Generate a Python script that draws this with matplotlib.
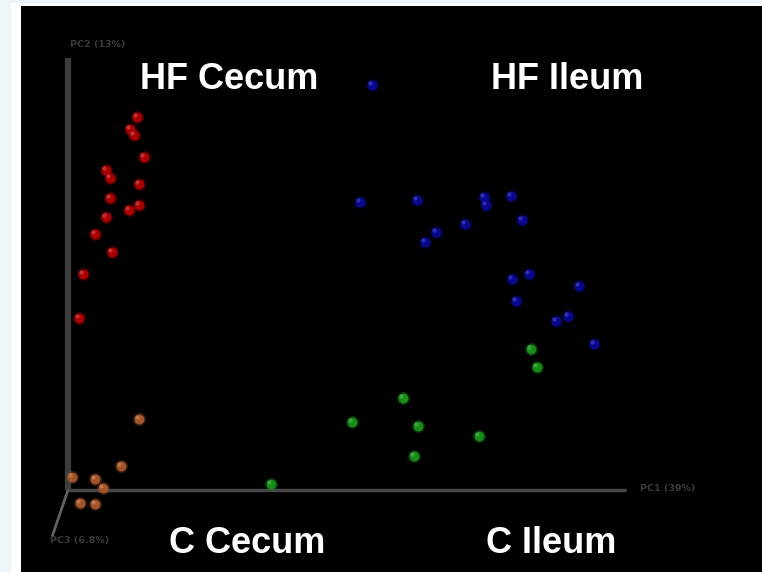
import numpy as np
import matplotlib
matplotlib.use("Agg")
import matplotlib.pyplot as plt
from matplotlib.patches import Rectangle

# PCoA scores (PC1, PC2)
hf_cecum_pc1 = [0.69, 0.62, 0.66, 0.76, 0.38, 0.42, 0.71, 0.42, 0.71, 0.61, 0.38, 0.27, 0.44, 0.15, 0.11]
hf_cecum_pc2 = [3.73, 3.61, 3.55, 3.33, 3.20, 3.12, 3.06, 2.92, 2.85, 2.80, 2.73, 2.56, 2.38, 2.16, 1.72]

hf_ileum_pc1 = [3.04, 2.92, 3.49, 4.16, 4.18, 4.43, 4.54, 3.97, 3.68, 3.57, 4.44, 4.61, 5.11, 4.48, 5.00, 4.88, 5.26]
hf_ileum_pc2 = [4.05, 2.88, 2.90, 2.93, 2.85, 2.94, 2.70, 2.66, 2.58, 2.48, 2.11, 2.16, 2.04, 1.89, 1.74, 1.69, 1.46]

c_ileum_pc1 = [4.63, 4.69, 3.35, 2.84, 3.50, 4.11, 3.46, 2.03]
c_ileum_pc2 = [1.41, 1.23, 0.92, 0.68, 0.64, 0.54, 0.34, 0.06]

c_cecum_pc1 = [0.71, 0.53, 0.04, 0.27, 0.35, 0.12, 0.27]
c_cecum_pc2 = [0.71, 0.24, 0.13, 0.11, 0.02, -0.13, -0.14]

group_names = ["HF Cecum", "HF Ileum", "C Cecum", "C Ileum"]
axis_labels = ["PC1 (39%)", "PC2 (13%)", "PC3 (6.8%)"]


def main():
    fig = plt.figure(figsize=(7.62, 5.72), dpi=100)
    fig.patch.set_facecolor("#edf5f7")
    fig.patches.append(Rectangle((11 / 762, 0), 751 / 762, 569 / 572,
                                 transform=fig.transFigure, facecolor="white",
                                 edgecolor="none", zorder=-1))

    ax = fig.add_axes([21 / 762, 0, 741 / 762, 566 / 572])
    ax.set_facecolor("black")
    ax.set_xlim(-0.47, 6.94)
    ax.set_ylim(-0.82, 4.84)
    for sp in ax.spines.values():
        sp.set_visible(False)
    ax.set_xticks([])
    ax.set_yticks([])

    # pseudo 3D axes
    ax.plot([0, 0], [0, 4.32], color="#3c3c3c", lw=4.5, solid_capstyle="butt", zorder=1)
    ax.plot([0, 5.58], [0, 0], color="#454545", lw=2.5, solid_capstyle="butt", zorder=1)
    ax.plot([0, -0.16], [0, -0.47], color="#606060", lw=2.0, solid_capstyle="butt", zorder=1)

    ax.text(0.02, 4.45, axis_labels[1], color="#3a3a3a", fontsize=6.8,
            ha="left", va="center", fontweight="bold")
    ax.text(5.72, 0.02, axis_labels[0], color="#3a3a3a", fontsize=6.8,
            ha="left", va="center", fontweight="bold")
    ax.text(-0.18, -0.50, axis_labels[2], color="#3a3a3a", fontsize=6.8,
            ha="left", va="center", fontweight="bold")

    groups = [
        (hf_cecum_pc1, hf_cecum_pc2, "#a80000", "#c84040"),
        (hf_ileum_pc1, hf_ileum_pc2, "#08088c", "#3838b8"),
        (c_cecum_pc1, c_cecum_pc2, "#a0552a", "#c88050"),
        (c_ileum_pc1, c_ileum_pc2, "#1a8c1a", "#48b048"),
    ]
    for xs, ys, col, hi in groups:
        ax.scatter(xs, ys, s=90, color=col, alpha=0.3, linewidths=0, zorder=2)
        ax.scatter(xs, ys, s=50, color=col, linewidths=0, zorder=3)
        ax.scatter(np.array(xs) - 0.02, np.array(ys) + 0.02, s=9, color=hi,
                   alpha=0.8, linewidths=0, zorder=4)

    title_kw = dict(color="white", fontsize=26, fontweight="bold",
                    family=["Liberation Sans", "DejaVu Sans"],
                    ha="center", va="baseline", zorder=5)
    ax.text(1.61, 4.01, group_names[0], **title_kw)
    ax.text(4.99, 4.01, group_names[1], **title_kw)
    ax.text(1.79, -0.63, group_names[2], **title_kw)
    ax.text(4.83, -0.63, group_names[3], **title_kw)

    fig.savefig("out.png", dpi=100, facecolor=fig.get_facecolor())


if __name__ == "__main__":
    main()
